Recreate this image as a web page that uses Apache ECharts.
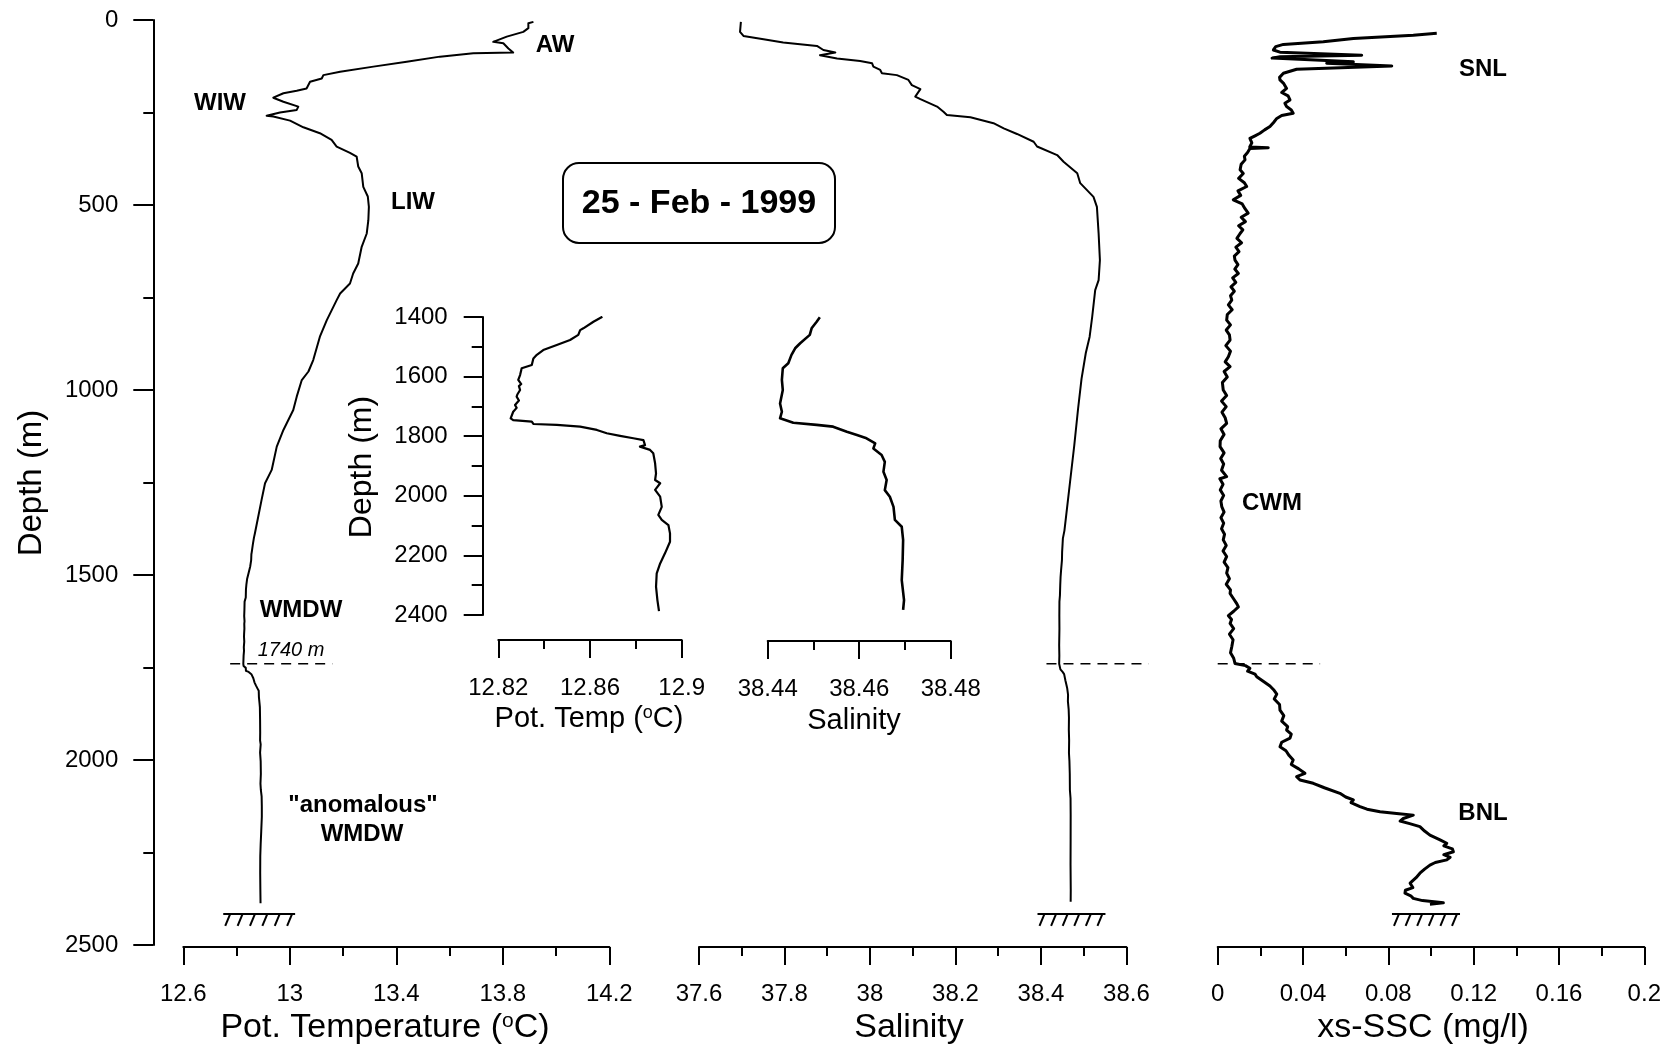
<!DOCTYPE html>
<html><head><meta charset="utf-8">
<script src="https://cdn.jsdelivr.net/npm/echarts/dist/echarts.min.js"></script>
<style>html,body{margin:0;padding:0;background:#fff}#c{width:1674px;height:1057px}</style>
</head><body><div id="c"></div>
<script>
// ---------------- DATA ----------------
// Potential temperature, upper column [T (ºC), depth (m)]
const tempUpper = [[13.915,5],[13.896,9],[13.896,22],[13.877,32],[13.815,45],[13.764,59],[13.802,63],[13.821,77],[13.839,88],[13.689,90],[13.564,99],[13.439,113],[13.314,126],[13.189,140],[13.126,149],[13.12,158],[13.076,167],[13.063,185],[13.026,191],[12.976,198],[12.938,210],[12.976,221],[13.032,234],[13.026,243],[12.963,250],[12.913,259],[12.938,261],[13.001,272],[13.051,290],[13.113,306],[13.157,324],[13.176,342],[13.226,359],[13.251,369],[13.257,396],[13.27,414],[13.276,451],[13.293,477],[13.297,505],[13.295,541],[13.289,577],[13.27,613],[13.257,658],[13.238,685],[13.226,712],[13.189,739],[13.176,757],[13.139,811],[13.113,856],[13.088,919],[13.07,950],[13.045,973],[13.026,1018],[13.013,1054],[12.976,1108],[12.951,1153],[12.932,1216],[12.907,1252],[12.894,1297],[12.869,1387]];
// Potential temperature, deep column (also the inset) [T, depth]
const tempDeep = [[12.8654,1399],[12.8615,1416],[12.8571,1438],[12.8557,1444],[12.8549,1460],[12.8513,1477],[12.8455,1494],[12.8396,1511],[12.8368,1527],[12.8353,1539],[12.8346,1561],[12.8302,1572],[12.8295,1595],[12.8287,1611],[12.8300,1625],[12.8290,1632],[12.8295,1645],[12.8283,1660],[12.828,1667],[12.8290,1680],[12.8273,1695],[12.8280,1705],[12.8265,1718],[12.8254,1740],[12.8265,1746],[12.8346,1751],[12.8353,1759],[12.8455,1762],[12.8557,1768],[12.863,1779],[12.8673,1790],[12.8731,1799],[12.8789,1807],[12.8833,1813],[12.884,1830],[12.8818,1835],[12.8862,1846],[12.8876,1857],[12.8884,1891],[12.8888,1925],[12.8884,1947],[12.8906,1958],[12.8884,1980],[12.8906,2003],[12.8913,2037],[12.8898,2064],[12.8913,2081],[12.8942,2098],[12.8949,2126],[12.8949,2154],[12.8927,2193],[12.8906,2227],[12.8891,2260],[12.8888,2305],[12.8894,2350],[12.8901,2387]];
// Salinity, upper column [S, depth]
const salUpper = [[37.698,5],[37.696,32],[37.704,43],[37.751,52],[37.797,61],[37.876,70],[37.891,81],[37.919,88],[37.883,95],[37.923,104],[37.977,111],[38.005,117],[38.008,126],[38.024,135],[38.028,144],[38.063,149],[38.090,162],[38.098,176],[38.118,187],[38.106,207],[38.118,214],[38.157,234],[38.172,248],[38.180,257],[38.235,263],[38.289,279],[38.313,293],[38.344,308],[38.383,329],[38.391,342],[38.438,365],[38.453,383],[38.485,414],[38.492,441],[38.523,478],[38.531,505],[38.535,577],[38.538,649],[38.535,703],[38.527,730],[38.520,802],[38.514,856],[38.505,900],[38.495,970],[38.487,1050],[38.478,1150],[38.468,1250],[38.460,1330],[38.455,1380]];
// Salinity, deep column (also the inset) [S, depth]
const salDeep = [[38.4514,1401],[38.4507,1416],[38.4496,1438],[38.4492,1460],[38.4471,1488],[38.4460,1505],[38.4452,1527],[38.4445,1555],[38.4433,1572],[38.4431,1611],[38.4433,1645],[38.4427,1690],[38.4431,1718],[38.4427,1740],[38.4456,1755],[38.4507,1762],[38.4543,1768],[38.4573,1785],[38.4595,1796],[38.4616,1807],[38.4635,1824],[38.4631,1841],[38.4649,1863],[38.4656,1886],[38.4653,1919],[38.4660,1947],[38.4656,1981],[38.4667,2003],[38.4675,2037],[38.4678,2081],[38.4693,2104],[38.4696,2148],[38.4695,2215],[38.4693,2283],[38.4698,2350],[38.4696,2383]];
// Excess suspended sediment concentration [xs-SSC (mg/l), depth]
const sscData = [[0.1027,36],[0.0917,41],[0.0636,50],[0.0495,59],[0.0308,66],[0.0272,72],[0.0261,81],[0.0292,87],[0.0675,95],[0.0292,99],[0.0255,103],[0.0253,108],[0.0636,113],[0.0511,117],[0.0816,124],[0.0370,133],[0.0308,144],[0.0290,155],[0.0292,162],[0.0310,172],[0.0323,185],[0.0300,196],[0.0330,205],[0.0339,216],[0.0315,225],[0.0323,234],[0.0345,243],[0.0354,252],[0.0300,258],[0.0277,266],[0.0262,277],[0.0245,288],[0.0220,297],[0.0198,306],[0.0175,313],[0.0151,320],[0.0160,332],[0.0150,343],[0.0237,345],[0.0151,347],[0.0140,358],[0.0125,368],[0.0128,378],[0.0110,390],[0.0105,405],[0.0120,415],[0.0098,428],[0.0125,440],[0.0136,450],[0.0095,462],[0.0108,474],[0.0073,486],[0.0115,497],[0.0128,510],[0.0143,522],[0.0110,533],[0.0130,545],[0.0098,556],[0.0118,567],[0.0105,577],[0.0090,590],[0.0112,602],[0.0085,614],[0.0100,626],[0.0078,638],[0.0081,649],[0.0095,661],[0.0080,673],[0.0097,685],[0.0070,697],[0.0085,709],[0.0062,721],[0.0078,733],[0.0060,745],[0.0066,757],[0.0050,770],[0.0068,783],[0.0045,796],[0.0042,811],[0.0060,824],[0.0040,838],[0.0055,851],[0.0058,865],[0.0038,880],[0.0060,895],[0.0050,910],[0.0035,924],[0.0058,937],[0.0030,950],[0.0045,965],[0.0022,980],[0.0026,1000],[0.0042,1015],[0.0018,1030],[0.0040,1045],[0.0020,1060],[0.0035,1075],[0.0042,1090],[0.0015,1105],[0.0030,1120],[0.0012,1137],[0.0011,1153],[0.0030,1170],[0.0014,1185],[0.0028,1200],[0.0018,1217],[0.0042,1234],[0.0010,1240],[0.0025,1255],[0.0012,1270],[0.0028,1285],[0.0015,1300],[0.0019,1315],[0.0030,1330],[0.0015,1345],[0.0028,1360],[0.0018,1375],[0.0032,1390],[0.0026,1405],[0.0040,1420],[0.0025,1435],[0.0042,1450],[0.0030,1465],[0.0048,1480],[0.0042,1495],[0.0055,1510],[0.0040,1525],[0.0060,1540],[0.0058,1550],[0.0075,1565],[0.0090,1578],[0.0097,1586],[0.0075,1598],[0.0050,1610],[0.0065,1620],[0.0058,1631],[0.0075,1645],[0.0055,1660],[0.0072,1675],[0.0066,1694],[0.0060,1710],[0.0075,1725],[0.0081,1739],[0.0130,1745],[0.0151,1752],[0.0140,1760],[0.0175,1768],[0.0183,1775],[0.0215,1788],[0.0245,1800],[0.0262,1810],[0.0277,1822],[0.0265,1835],[0.0290,1850],[0.0292,1865],[0.0310,1880],[0.0300,1895],[0.0328,1910],[0.0323,1919],[0.0345,1930],[0.0339,1941],[0.0300,1952],[0.0292,1964],[0.0320,1975],[0.0335,1988],[0.0354,2000],[0.0345,2012],[0.0380,2024],[0.0409,2036],[0.0370,2045],[0.0386,2054],[0.0448,2063],[0.0500,2075],[0.0573,2090],[0.0600,2100],[0.0636,2108],[0.0625,2115],[0.0667,2126],[0.0700,2133],[0.0761,2140],[0.0850,2145],[0.0917,2149],[0.0870,2158],[0.0855,2165],[0.0900,2172],[0.0948,2180],[0.0970,2192],[0.0995,2203],[0.1040,2215],[0.1074,2225],[0.1060,2232],[0.1100,2240],[0.1105,2248],[0.1060,2256],[0.1090,2263],[0.1074,2270],[0.1020,2277],[0.0995,2284],[0.0970,2295],[0.0948,2306],[0.0930,2318],[0.0902,2333],[0.0915,2345],[0.0880,2352],[0.0878,2360],[0.0905,2367],[0.0917,2374],[0.0960,2380],[0.1058,2386],[0.0995,2390]];
// 1740 m reference lines [xStart, xEnd, depth]
const markDepth = 1740;
const tempDash = [12.776, 13.160, markDepth];
const salDash = [38.413, 38.652, markDepth];
const sscDash = [0, 0.048, markDepth];
// sea-floor symbols [xLeft, xRight, depth]
const tempFloor = [12.75, 13.02, 2416];
const salFloor = [38.392, 38.551, 2416];
const sscFloor = [0.0817, 0.1136, 2416];
// tick values
const tempMajor = [12.6, 13, 13.4, 13.8, 14.2], tempMinor = [12.8, 13.2, 13.6, 14.0];
const salMajor = [37.6, 37.8, 38, 38.2, 38.4, 38.6], salMinor = [37.7, 37.9, 38.1, 38.3, 38.5];
const sscMajor = [0, 0.04, 0.08, 0.12, 0.16, 0.2], sscMinor = [0.02, 0.06, 0.1, 0.14, 0.18];
const inTempMajor = [12.82, 12.86, 12.9], inTempMinor = [12.84, 12.88];
const inSalMajor = [38.44, 38.46, 38.48], inSalMinor = [38.45, 38.47];
// labels
const waterMasses = [
  ['AW', 555, 45], ['WIW', 220, 103], ['LIW', 413, 202], ['WMDW', 301, 610],
  ['"anomalous"', 363, 805], ['WMDW', 362, 834], ['SNL', 1483, 69], ['CWM', 1272, 503], ['BNL', 1483, 813]
];
const dateLabel = '25 - Feb - 1999';

// ---------------- CHART ----------------
const FONT = '"Liberation Sans", Arial, Helvetica, sans-serif';
const K = '#000';
const chart = echarts.init(document.getElementById('c'), null, {renderer: 'canvas'});
const plain = v => String(+v.toFixed(4));

function majorX(grid, min, max, ticks, offset, margin) {
  return {type: 'value', gridIndex: grid, min, max, position: 'bottom', offset,
    axisLine: {show: true, onZero: false, lineStyle: {color: K, width: 2}},
    axisTick: {show: true, customValues: ticks, length: 18, lineStyle: {color: K, width: 2}},
    axisLabel: {show: true, customValues: ticks, margin, fontSize: 24, color: K, fontFamily: FONT, formatter: plain},
    splitLine: {show: false}};
}
function minorX(grid, min, max, ticks, offset) {
  return {type: 'value', gridIndex: grid, min, max, position: 'bottom', offset,
    axisLine: {show: false, onZero: false},
    axisTick: {show: true, customValues: ticks, length: 9, lineStyle: {color: K, width: 2}},
    axisLabel: {show: false}, splitLine: {show: false}};
}
function hiddenY(grid, min, max) {
  return {type: 'value', gridIndex: grid, inverse: true, min, max, show: false, splitLine: {show: false}};
}
function depthY(grid, min, max, interval, offset, tickLen, minorLen) {
  return {type: 'value', gridIndex: grid, inverse: true, min, max, interval, position: 'left', offset,
    axisLine: {show: true, onZero: false, lineStyle: {color: K, width: 2}},
    axisTick: {show: true, length: tickLen, lineStyle: {color: K, width: 2}},
    minorTick: {show: true, splitNumber: 2, length: minorLen, lineStyle: {color: K, width: 2}},
    axisLabel: {margin: 35, fontSize: 24, color: K, fontFamily: FONT, formatter: plain},
    splitLine: {show: false}, minorSplitLine: {show: false}};
}
function profile(xi, yi, data, w) {
  return {type: 'line', xAxisIndex: xi, yAxisIndex: yi, data, symbol: 'none', showSymbol: false,
    lineStyle: {color: K, width: w, join: 'round'}, animation: false, silent: true};
}
function dash(xi, yi, d) {
  return {type: 'custom', xAxisIndex: xi, yAxisIndex: yi, clip: false, silent: true,
    data: [d], encode: {x: [0, 1], y: 2},
    renderItem: function (params, api) {
      const a = api.coord([api.value(0), api.value(2)]);
      const b = api.coord([api.value(1), api.value(2)]);
      return {type: 'line', shape: {x1: a[0], y1: a[1], x2: b[0], y2: b[1]},
        style: {stroke: K, lineWidth: 1.6, lineDash: [10, 7]}};
    }};
}
function floor(xi, yi, f) {
  return {type: 'custom', xAxisIndex: xi, yAxisIndex: yi, clip: false, silent: true,
    data: [f], encode: {x: [0, 1], y: 2},
    renderItem: function (params, api) {
      const a = api.coord([api.value(0), api.value(2)]);
      const b = api.coord([api.value(1), api.value(2)]);
      const ch = [{type: 'line', shape: {x1: a[0], y1: a[1], x2: b[0], y2: b[1]}, style: {stroke: K, lineWidth: 2}}];
      const n = 6, span = b[0] - a[0];
      for (let i = 0; i < n; i++) {
        const xt = a[0] + 7 + i * (span - 10) / (n - 1);
        ch.push({type: 'line', shape: {x1: xt, y1: a[1], x2: xt - 5, y2: a[1] + 12}, style: {stroke: K, lineWidth: 2}});
      }
      return {type: 'group', children: ch};
    }};
}
function txt(text, x, y, size, extra) {
  return Object.assign({type: 'text', x, y, silent: true,
    style: Object.assign({text, fontSize: size, fontFamily: FONT, fill: K, align: 'center', verticalAlign: 'middle'}, extra || {})});
}
const supRich = s => ({s: {fontSize: s, fontFamily: FONT, fill: K, verticalAlign: 'top'}});

const grids = [
  {left: 183.3, top: 20, width: 426, height: 925},
  {left: 699, top: 20, width: 427.4, height: 925},
  {left: 1217.7, top: 20, width: 426.6, height: 925},
  {left: 498.3, top: 317, width: 183.4, height: 298},
  {left: 767.7, top: 317, width: 183, height: 298}
].map(g => Object.assign({containLabel: false, outerBoundsMode: 'none', show: false}, g));

const option = {
  backgroundColor: '#fff',
  animation: false,
  grid: grids,
  xAxis: [
    majorX(0, 12.6, 14.2, tempMajor, 2, 35), minorX(0, 12.6, 14.2, tempMinor, 2),
    majorX(1, 37.6, 38.6, salMajor, 2, 35), minorX(1, 37.6, 38.6, salMinor, 2),
    majorX(2, 0, 0.2, sscMajor, 2, 35), minorX(2, 0, 0.2, sscMinor, 2),
    majorX(3, 12.82, 12.9, inTempMajor, 25, 36), minorX(3, 12.82, 12.9, inTempMinor, 25),
    majorX(4, 38.44, 38.48, inSalMajor, 26, 36), minorX(4, 38.44, 38.48, inSalMinor, 26)
  ],
  yAxis: [
    depthY(0, 0, 2500, 500, 30, 20, 10),
    hiddenY(1, 0, 2500), hiddenY(2, 0, 2500),
    depthY(3, 1400, 2400, 200, 15.6, 19, 11),
    hiddenY(4, 1400, 2400)
  ],
  series: [
    profile(0, 0, tempUpper.concat(tempDeep), 2),
    dash(0, 0, tempDash), floor(0, 0, tempFloor),
    profile(2, 1, salUpper.concat(salDeep), 2),
    dash(2, 1, salDash), floor(2, 1, salFloor),
    profile(4, 2, sscData, 3),
    dash(4, 2, sscDash), floor(4, 2, sscFloor),
    profile(6, 3, tempDeep, 2.2),
    profile(8, 4, salDeep, 2.6)
  ],
  graphic: {elements: [].concat(
    waterMasses.map(w => txt(w[0], w[1], w[2], 24, {fontWeight: 'bold'})),
    [
      txt('1740 m', 291, 650, 20, {fontStyle: 'italic'}),
      {type: 'rect', silent: true, shape: {x: 563, y: 163, width: 272, height: 80, r: 16},
        style: {fill: 'none', stroke: K, lineWidth: 2}},
      txt(dateLabel, 699, 204, 34, {fontWeight: 'bold'}),
      txt('Pot. Temperature ({s|o}C)', 385, 1028, 34, {rich: supRich(21)}),
      txt('Salinity', 909, 1028, 34),
      txt('xs-SSC (mg/l)', 1423, 1028, 34),
      txt('Pot. Temp ({s|o}C)', 589, 719, 29, {rich: supRich(18)}),
      txt('Salinity', 854, 721, 29),
      Object.assign(txt('Depth (m)', 32, 483, 33), {rotation: Math.PI / 2}),
      Object.assign(txt('Depth (m)', 362, 467, 32), {rotation: Math.PI / 2})
    ]
  )}
};
chart.setOption(option);
</script>
</body></html>
